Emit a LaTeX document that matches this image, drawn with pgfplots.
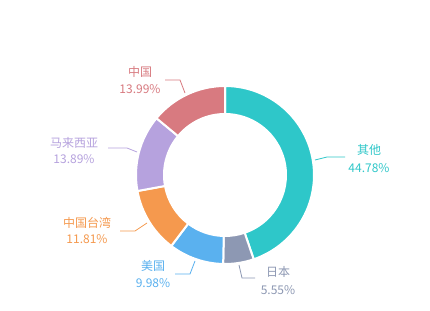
\documentclass[border=0pt]{standalone}
\usepackage{pgfplots}
\pgfplotsset{compat=1.18}
\usepackage{pgfplotstable}
\usepackage{fontspec}
\setmainfont{Noto Sans CJK SC}
\definecolor{cQT}{HTML}{2EC7C9}
\definecolor{cRB}{HTML}{8D98B3}
\definecolor{cMG}{HTML}{5AB1EF}
\definecolor{cTW}{HTML}{F5994E}
\definecolor{cMY}{HTML}{B6A2DE}
\definecolor{cZG}{HTML}{D87A80}
\pgfplotstableread{
name value color
QT 44.78 cQT
RB 5.55 cRB
MG 9.98 cMG
TW 11.81 cTW
MY 13.89 cMY
ZG 13.99 cZG
}\donutdata
\begin{document}
\begin{tikzpicture}
\begin{axis}[x=1bp,y=1bp,xmin=0,xmax=430,ymin=0,ymax=311,hide axis,clip=false]
\addplot[draw=none,forget plot] coordinates {(225,136)};
\pgfplotsextra{
  \fill[white] (axis cs:0,0) rectangle (axis cs:430,311);
  \pgfplotstablegetrowsof{\donutdata}
  \pgfmathtruncatemacro{\N}{\pgfplotsretval-1}
  \xdef\startang{90}
  \foreach \i in {0,...,\N}{
    \pgfplotstablegetelem{\i}{value}\of{\donutdata}
    \pgfmathsetmacro{\sweep}{\pgfplotsretval*3.6}
    \pgfplotstablegetelem{\i}{color}\of{\donutdata}
    \edef\segcol{\pgfplotsretval}
    \pgfmathsetmacro{\endang}{\startang-\sweep}
    \fill[fill=\segcol, draw=white, line width=2bp] (axis cs:225,136) ++(\startang:89bp) arc[start angle=\startang, end angle=\endang, radius=89bp] -- ++(\endang:-28bp) arc[start angle=\endang, end angle=\startang, radius=61bp] -- cycle;
    \xdef\startang{\endang}
  }
  \tikzset{lbl/.style={font=\fontsize{12bp}{14bp}\selectfont, inner sep=0pt}}
  % leader lines
  \draw[cZG, line width=0.8bp] (axis cs:185,218) -- (axis cs:180,231) -- (axis cs:165,231);
  \draw[cQT, line width=0.8bp] (axis cs:315,151) -- (axis cs:327,154) -- (axis cs:345,154);
  \draw[cMY, line width=0.8bp] (axis cs:137,159) -- (axis cs:127,163) -- (axis cs:108,163);
  \draw[cTW, line width=0.8bp] (axis cs:147,88) -- (axis cs:135,80) -- (axis cs:120,80);
  \draw[cMG, line width=0.8bp] (axis cs:195,50) -- (axis cs:190,37) -- (axis cs:175,37);
  \draw[cRB, line width=0.8bp] (axis cs:239,46) -- (axis cs:242,33) -- (axis cs:255,33);
  % labels
  \node[lbl, text=cZG] at (axis cs:140,239) {中国};
  \node[lbl, text=cZG] at (axis cs:140,222) {13.99\%};
  \node[lbl, text=cQT] at (axis cs:369,161) {其他};
  \node[lbl, text=cQT] at (axis cs:369,143) {44.78\%};
  \node[lbl, text=cMY] at (axis cs:74,168) {马来西亚};
  \node[lbl, text=cMY] at (axis cs:74,152) {13.89\%};
  \node[lbl, text=cTW] at (axis cs:87,88) {中国台湾};
  \node[lbl, text=cTW] at (axis cs:87,72) {11.81\%};
  \node[lbl, text=cMG] at (axis cs:153,45) {美国};
  \node[lbl, text=cMG] at (axis cs:153,28) {9.98\%};
  \node[lbl, text=cRB] at (axis cs:278,39) {日本};
  \node[lbl, text=cRB] at (axis cs:278,21) {5.55\%};
}
\end{axis}
\end{tikzpicture}
\end{document}
